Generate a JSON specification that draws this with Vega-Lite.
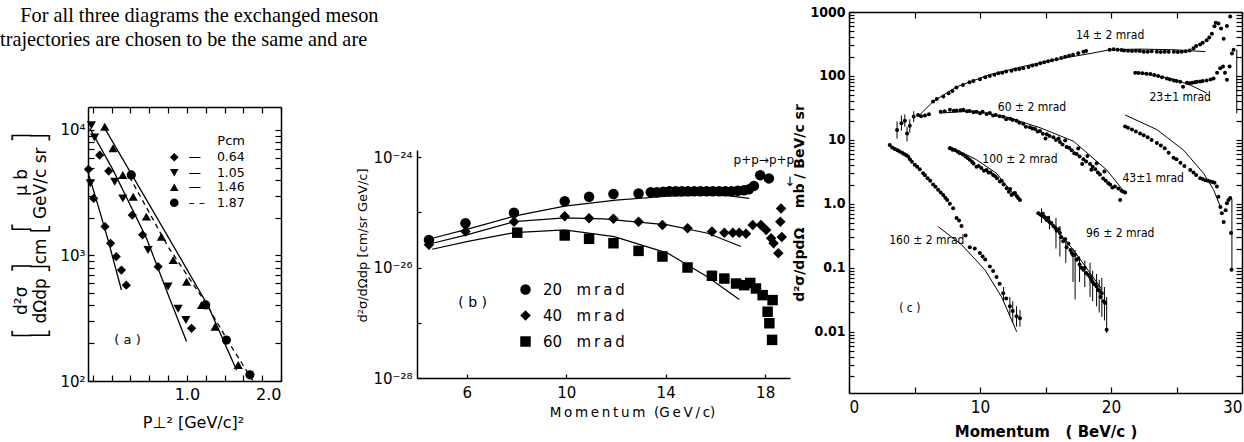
{
"$schema": "https://vega.github.io/schema/vega-lite/v6.json",
"background": "white",
"width": 1244, "height": 442, "autosize": "none", "padding": 0,
"config": {
  "view": {"stroke": null},
  "font": "DejaVu Sans",
  "axis": {"grid": false, "domainColor": "black", "tickColor": "black", "labelColor": "black", "titleColor": "black", "domainWidth": 1.5, "tickWidth": 1.2, "labelFont": "DejaVu Sans", "titleFont": "DejaVu Sans", "titleFontWeight": "normal"},
  "legend": {"labelFont": "DejaVu Sans", "titleFont": "DejaVu Sans", "labelColor": "black", "titleColor": "black", "padding": 0},
  "text": {"font": "DejaVu Sans", "color": "black"}
},
"datasets": {
  "para": [{"c":0,"line":1,"t":"\u200c\u00a0\u00a0\u00a0\u00a0For all three diagrams the exchanged meson"},{"c":0,"line":2,"t":"trajectories are chosen to be the same and are"}],
  "aPts": [
    {"s":"0.64","x":-0.045,"y":4860},{"s":"0.64","x":0.01,"y":2850},{"s":"0.64","x":0.13,"y":1700},{"s":"0.64","x":0.19,"y":1250},{"s":"0.64","x":0.25,"y":980},{"s":"0.64","x":0.305,"y":765},{"s":"0.64","x":0.357,"y":580},
    {"s":"0.64","x":0.074,"y":6300},{"s":"0.64","x":0.17,"y":4700},{"s":"0.64","x":0.42,"y":2100},{"s":"0.64","x":0.53,"y":1460},{"s":"0.64","x":0.695,"y":814},{"s":"0.64","x":1.05,"y":263},
    {"s":"1.05","x":-0.025,"y":3760},{"s":"1.05","x":-0.014,"y":10900},{"s":"1.05","x":0.02,"y":8700},{"s":"1.05","x":0.234,"y":3870},{"s":"1.05","x":0.32,"y":2850},{"s":"1.05","x":0.588,"y":1106},{"s":"1.05","x":0.8,"y":565},{"s":"1.05","x":0.907,"y":377},{"s":"1.05","x":0.99,"y":306},
    {"s":"1.46","x":0.128,"y":10600},{"s":"1.46","x":0.216,"y":7150},{"s":"1.46","x":0.32,"y":4380},{"s":"1.46","x":0.43,"y":2940},{"s":"1.46","x":0.57,"y":2040},{"s":"1.46","x":0.73,"y":1413},{"s":"1.46","x":0.855,"y":920},{"s":"1.46","x":0.997,"y":618},{"s":"1.46","x":1.156,"y":404},{"s":"1.46","x":1.3,"y":271},{"s":"1.46","x":1.546,"y":134},
    {"s":"1.87","x":0.41,"y":4380},{"s":"1.87","x":1.2,"y":404},{"s":"1.87","x":1.42,"y":212},{"s":"1.87","x":1.67,"y":112}
  ],
  "aLines": [
    {"s":"0.64","x":-0.045,"y":4500},{"s":"0.64","x":0.05,"y":2600},{"s":"0.64","x":0.163,"y":1330},{"s":"0.64","x":0.305,"y":531},
    {"s":"1.05","x":-0.03,"y":10300},{"s":"1.05","x":0.216,"y":4800},{"s":"1.05","x":0.57,"y":1380},{"s":"1.05","x":0.8,"y":490},{"s":"1.05","x":0.997,"y":206},
    {"s":"1.46","x":0.128,"y":10300},{"s":"1.46","x":0.82,"y":1330},{"s":"1.46","x":1.23,"y":391},{"s":"1.46","x":1.528,"y":122},
    {"s":"1.87","x":0.39,"y":4250},{"s":"1.87","x":0.8,"y":1175},{"s":"1.87","x":1.2,"y":420},{"s":"1.87","x":1.45,"y":200},{"s":"1.87","x":1.7,"y":101}
  ],
  "aText": [{"x":0.37,"y":212,"t":"( a )"}],
  "bPts": [
    {"s":"20","x":4.48,"y":3.16e-26},{"s":"20","x":5.95,"y":6.31e-26},{"s":"20","x":7.9,"y":9.8e-26},{"s":"20","x":9.94,"y":1.58e-25},{"s":"20","x":10.92,"y":1.91e-25},{"s":"20","x":11.9,"y":2.14e-25},{"s":"20","x":12.91,"y":2.19e-25},
    {"s":"20","x":13.4,"y":2.3e-25},{"s":"20","x":13.65,"y":2.3e-25},{"s":"20","x":13.9,"y":2.35e-25},{"s":"20","x":14.15,"y":2.4e-25},{"s":"20","x":14.4,"y":2.4e-25},{"s":"20","x":14.65,"y":2.4e-25},{"s":"20","x":14.9,"y":2.4e-25},{"s":"20","x":15.15,"y":2.4e-25},{"s":"20","x":15.4,"y":2.4e-25},{"s":"20","x":15.65,"y":2.4e-25},{"s":"20","x":15.9,"y":2.4e-25},{"s":"20","x":16.15,"y":2.4e-25},{"s":"20","x":16.4,"y":2.4e-25},{"s":"20","x":16.65,"y":2.4e-25},{"s":"20","x":16.9,"y":2.45e-25},{"s":"20","x":17.15,"y":2.5e-25},{"s":"20","x":17.35,"y":2.6e-25},{"s":"20","x":17.55,"y":3.0e-25},{"s":"20","x":17.8,"y":4.7e-25},{"s":"20","x":18.15,"y":4.1e-25},
    {"s":"40","x":4.48,"y":2.57e-26},{"s":"40","x":5.95,"y":4.47e-26},{"s":"40","x":7.9,"y":6.76e-26},{"s":"40","x":9.94,"y":8.5e-26},{"s":"40","x":10.92,"y":7.76e-26},{"s":"40","x":11.9,"y":7.6e-26},{"s":"40","x":12.91,"y":6.76e-26},{"s":"40","x":13.87,"y":5.89e-26},{"s":"40","x":14.88,"y":5.13e-26},{"s":"40","x":15.86,"y":4.47e-26},{"s":"40","x":16.36,"y":4.27e-26},{"s":"40","x":16.7,"y":4.27e-26},{"s":"40","x":16.96,"y":4.27e-26},{"s":"40","x":17.23,"y":4.07e-26},{"s":"40","x":17.5,"y":5.89e-26},{"s":"40","x":17.83,"y":5.89e-26},{"s":"40","x":18.04,"y":4.79e-26},{"s":"40","x":18.24,"y":3.39e-26},{"s":"40","x":18.34,"y":2.75e-26},{"s":"40","x":18.53,"y":1.82e-26},{"s":"40","x":18.64,"y":1.17e-25},{"s":"40","x":18.61,"y":6.76e-26},{"s":"40","x":18.67,"y":3.55e-26},
    {"s":"60","x":8.03,"y":4.27e-26},{"s":"60","x":9.94,"y":3.8e-26},{"s":"60","x":10.92,"y":3.31e-26},{"s":"60","x":11.9,"y":2.75e-26},{"s":"60","x":12.91,"y":2.0e-26},{"s":"60","x":13.87,"y":1.58e-26},{"s":"60","x":14.88,"y":1.0e-26},{"s":"60","x":15.86,"y":7.08e-27},{"s":"60","x":16.36,"y":6.31e-27},{"s":"60","x":16.83,"y":5.13e-27},{"s":"60","x":17.16,"y":4.79e-27},{"s":"60","x":17.4,"y":5.25e-27},{"s":"60","x":17.63,"y":4.17e-27},{"s":"60","x":17.9,"y":3.16e-27},{"s":"60","x":18.3,"y":2.57e-27},{"s":"60","x":18.1,"y":1.58e-27},{"s":"60","x":18.17,"y":9.8e-28},{"s":"60","x":18.28,"y":4.9e-28}
  ],
  "bLines": [
    {"s":"20","x":4.54,"y":3.31e-26},{"s":"20","x":6,"y":4.9e-26},{"s":"20","x":7.9,"y":8.5e-26},{"s":"20","x":9.94,"y":1.29e-25},{"s":"20","x":12,"y":1.66e-25},{"s":"20","x":14.08,"y":1.95e-25},{"s":"20","x":15.5,"y":2.04e-25},{"s":"20","x":16.5,"y":2.0e-25},{"s":"20","x":17.36,"y":1.78e-25},
    {"s":"40","x":4.54,"y":2.69e-26},{"s":"40","x":6,"y":3.9e-26},{"s":"40","x":7.9,"y":6.76e-26},{"s":"40","x":9.94,"y":7.94e-26},{"s":"40","x":11.5,"y":7.6e-26},{"s":"40","x":14.08,"y":5.89e-26},{"s":"40","x":15.69,"y":4.17e-26},{"s":"40","x":17.03,"y":2.4e-26},
    {"s":"60","x":4.61,"y":2.14e-26},{"s":"60","x":6,"y":2.95e-26},{"s":"60","x":7.9,"y":4.27e-26},{"s":"60","x":9.94,"y":4.79e-26},{"s":"60","x":11.93,"y":3.63e-26},{"s":"60","x":14.08,"y":1.82e-26},{"s":"60","x":15.69,"y":6.76e-27},{"s":"60","x":16.96,"y":2.63e-27}
  ],
  "bText": [{"x":6.24,"y":2.3e-27,"t":"( b )","f":14},{"x":17.95,"y":8.9e-25,"t":"p+p→p+p","f":12},{"x":19.0,"y":3.5e-25,"t":"↓","f":13}],
  "cPts": [
    {"s":"14","x":3.67,"y":14.3},{"s":"14","x":4.0,"y":18.2},{"s":"14","x":4.26,"y":20},{"s":"14","x":4.43,"y":12.6},{"s":"14","x":4.64,"y":16.6},{"s":"14","x":4.94,"y":23.2},{"s":"14","x":5.27,"y":24.5},{"s":"14","x":5.5,"y":23.4},{"s":"14","x":5.8,"y":24},{"s":"14","x":6.1,"y":25.1},{"s":"14","x":6.42,"y":40},{"s":"14","x":6.7,"y":43.7},{"s":"14","x":7.2,"y":47.9},{"s":"14","x":7.6,"y":53.7},{"s":"14","x":7.9,"y":58},{"s":"14","x":8.2,"y":66},{"s":"14","x":8.7,"y":72.4},{"s":"14","x":9.2,"y":79.4},{"s":"14","x":9.5,"y":83.2},{"s":"14","x":10.0,"y":89.1},{"s":"14","x":10.4,"y":95},{"s":"14","x":10.75,"y":100},{"s":"14","x":11.1,"y":104},{"s":"14","x":11.4,"y":110},{"s":"14","x":11.7,"y":112},{"s":"14","x":12.0,"y":117},{"s":"14","x":12.4,"y":121},{"s":"14","x":12.7,"y":126},{"s":"14","x":13.0,"y":128},{"s":"14","x":13.3,"y":132},{"s":"14","x":13.7,"y":138},{"s":"14","x":14.0,"y":145},{"s":"14","x":14.3,"y":150},{"s":"14","x":14.6,"y":158},{"s":"14","x":14.9,"y":164},{"s":"14","x":15.2,"y":170},{"s":"14","x":15.5,"y":176},{"s":"14","x":15.85,"y":182},{"s":"14","x":16.2,"y":190},{"s":"14","x":16.5,"y":200},{"s":"14","x":16.8,"y":206},{"s":"14","x":17.1,"y":214},{"s":"14","x":17.5,"y":226},{"s":"14","x":17.9,"y":240},{"s":"14","x":18.1,"y":245},{"s":"14","x":19.9,"y":257},{"s":"14","x":20.2,"y":262},{"s":"14","x":20.5,"y":257},{"s":"14","x":20.8,"y":255},{"s":"14","x":21.0,"y":251},{"s":"14","x":21.3,"y":248},{"s":"14","x":21.6,"y":245},{"s":"14","x":21.9,"y":247},{"s":"14","x":22.2,"y":245},{"s":"14","x":22.5,"y":240},{"s":"14","x":22.8,"y":240},{"s":"14","x":23.1,"y":244},{"s":"14","x":23.5,"y":240},{"s":"14","x":23.8,"y":236},{"s":"14","x":24.1,"y":240},{"s":"14","x":24.4,"y":238},{"s":"14","x":24.8,"y":240},{"s":"14","x":25.1,"y":236},{"s":"14","x":25.4,"y":240},{"s":"14","x":25.7,"y":243},{"s":"14","x":26.0,"y":251},{"s":"14","x":26.3,"y":270},{"s":"14","x":26.5,"y":295},{"s":"14","x":26.8,"y":310},{"s":"14","x":27.0,"y":331},{"s":"14","x":27.3,"y":363},{"s":"14","x":27.5,"y":400},{"s":"14","x":27.7,"y":457},{"s":"14","x":27.9,"y":600},{"s":"14","x":28.0,"y":676},{"s":"14","x":28.2,"y":661},{"s":"14","x":28.4,"y":550},{"s":"14","x":28.6,"y":380},{"s":"14","x":28.85,"y":603},{"s":"14","x":29.1,"y":851},
    {"s":"23","x":21.85,"y":112},{"s":"23","x":22.1,"y":111},{"s":"23","x":22.4,"y":110},{"s":"23","x":22.7,"y":108},{"s":"23","x":23.0,"y":107},{"s":"23","x":23.3,"y":103},{"s":"23","x":23.6,"y":100},{"s":"23","x":23.9,"y":95},{"s":"23","x":24.27,"y":91},{"s":"23","x":24.5,"y":88},{"s":"23","x":24.8,"y":85},{"s":"23","x":25.0,"y":83},{"s":"23","x":25.28,"y":81},{"s":"23","x":25.5,"y":68},{"s":"23","x":25.8,"y":78},{"s":"23","x":26.0,"y":77},{"s":"23","x":26.2,"y":78},{"s":"23","x":26.4,"y":80},{"s":"23","x":26.56,"y":81},{"s":"23","x":26.8,"y":82},{"s":"23","x":27.0,"y":83},{"s":"23","x":27.3,"y":85},{"s":"23","x":27.6,"y":88},{"s":"23","x":27.83,"y":91},{"s":"23","x":28.1,"y":112},{"s":"23","x":28.34,"y":132},{"s":"23","x":28.55,"y":140},{"s":"23","x":28.7,"y":112},{"s":"23","x":28.85,"y":87},{"s":"23","x":29.05,"y":141},{"s":"23","x":29.23,"y":224},{"s":"23","x":29.36,"y":257},
    {"s":"60","x":7.0,"y":27.5},{"s":"60","x":7.3,"y":28},{"s":"60","x":7.7,"y":29.5},{"s":"60","x":8.0,"y":28.5},{"s":"60","x":8.2,"y":28.8},{"s":"60","x":8.5,"y":29},{"s":"60","x":8.72,"y":29.5},{"s":"60","x":9.0,"y":28},{"s":"60","x":9.2,"y":28.2},{"s":"60","x":9.5,"y":27},{"s":"60","x":9.73,"y":27.5},{"s":"60","x":10.0,"y":26},{"s":"60","x":10.2,"y":27.5},{"s":"60","x":10.5,"y":25.5},{"s":"60","x":10.75,"y":26.3},{"s":"60","x":11.0,"y":24},{"s":"60","x":11.2,"y":24.5},{"s":"60","x":11.5,"y":23.5},{"s":"60","x":11.77,"y":22.9},{"s":"60","x":12.0,"y":21},{"s":"60","x":12.3,"y":21.4},{"s":"60","x":12.5,"y":20.5},{"s":"60","x":12.79,"y":20},{"s":"60","x":13.0,"y":18.5},{"s":"60","x":13.3,"y":17.8},{"s":"60","x":13.5,"y":16},{"s":"60","x":13.81,"y":15.8},{"s":"60","x":14.0,"y":15},{"s":"60","x":14.2,"y":14.8},{"s":"60","x":14.4,"y":13.5},{"s":"60","x":14.58,"y":13.8},{"s":"60","x":14.8,"y":12.5},{"s":"60","x":15.0,"y":10.5},{"s":"60","x":15.1,"y":12.3},{"s":"60","x":15.3,"y":11.5},{"s":"60","x":15.6,"y":11},{"s":"60","x":15.8,"y":10},{"s":"60","x":16.0,"y":10.5},{"s":"60","x":16.1,"y":9.3},{"s":"60","x":16.3,"y":8.5},{"s":"60","x":16.5,"y":9.8},{"s":"60","x":16.61,"y":7.76},{"s":"60","x":16.8,"y":7.5},{"s":"60","x":17.0,"y":6.9},{"s":"60","x":17.2,"y":6.2},{"s":"60","x":17.38,"y":6.0},{"s":"60","x":17.5,"y":7.3},{"s":"60","x":17.6,"y":5.5},{"s":"60","x":17.8,"y":4.2},{"s":"60","x":17.9,"y":5.0},{"s":"60","x":18.1,"y":4.6},{"s":"60","x":18.2,"y":5.6},{"s":"60","x":18.4,"y":4.2},{"s":"60","x":18.5,"y":3.4},{"s":"60","x":18.6,"y":3.8},{"s":"60","x":18.8,"y":3.47},{"s":"60","x":18.9,"y":4.3},{"s":"60","x":19.0,"y":3.1},{"s":"60","x":19.16,"y":2.88},{"s":"60","x":19.4,"y":2.5},{"s":"60","x":19.5,"y":3.2},{"s":"60","x":19.6,"y":2.29},{"s":"60","x":19.8,"y":2.1},{"s":"60","x":19.93,"y":2.0},{"s":"60","x":20.1,"y":1.8},{"s":"60","x":20.3,"y":1.86},{"s":"60","x":20.57,"y":1.74},{"s":"60","x":20.7,"y":1.15},{"s":"60","x":20.8,"y":1.6},{"s":"60","x":20.95,"y":1.55},{"s":"60","x":21.08,"y":1.51},
    {"s":"100","x":7.7,"y":7.4},{"s":"100","x":7.9,"y":7.0},{"s":"100","x":8.1,"y":6.9},{"s":"100","x":8.3,"y":6.5},{"s":"100","x":8.46,"y":6.2},{"s":"100","x":8.7,"y":5.9},{"s":"100","x":8.9,"y":5.5},{"s":"100","x":9.05,"y":5.2},{"s":"100","x":9.22,"y":4.9},{"s":"100","x":9.4,"y":4.5},{"s":"100","x":9.5,"y":4.27},{"s":"100","x":9.73,"y":3.8},{"s":"100","x":9.9,"y":3.9},{"s":"100","x":10.1,"y":3.63},{"s":"100","x":10.3,"y":3.3},{"s":"100","x":10.5,"y":3.39},{"s":"100","x":10.65,"y":3.1},{"s":"100","x":10.8,"y":3.09},{"s":"100","x":11.0,"y":2.82},{"s":"100","x":11.15,"y":2.7},{"s":"100","x":11.3,"y":2.51},{"s":"100","x":11.52,"y":2.24},{"s":"100","x":11.65,"y":2.3},{"s":"100","x":11.8,"y":2.0},{"s":"100","x":12.03,"y":1.76},{"s":"100","x":12.2,"y":1.55},{"s":"100","x":12.3,"y":1.7},{"s":"100","x":12.41,"y":1.38},{"s":"100","x":12.55,"y":1.45},{"s":"100","x":12.67,"y":1.48},{"s":"100","x":12.8,"y":1.32},{"s":"100","x":12.92,"y":1.23},{"s":"100","x":13.05,"y":1.15},
    {"s":"43","x":21.08,"y":16.2},{"s":"43","x":21.3,"y":15.5},{"s":"43","x":21.6,"y":14.5},{"s":"43","x":21.9,"y":13.5},{"s":"43","x":22.22,"y":12.6},{"s":"43","x":22.5,"y":11.8},{"s":"43","x":22.8,"y":11},{"s":"43","x":23.1,"y":10},{"s":"43","x":23.5,"y":8.9},{"s":"43","x":23.8,"y":8.2},{"s":"43","x":24.1,"y":7.4},{"s":"43","x":24.4,"y":6.3},{"s":"43","x":24.77,"y":5.25},{"s":"43","x":25.0,"y":5.0},{"s":"43","x":25.3,"y":4.37},{"s":"43","x":25.6,"y":3.9},{"s":"43","x":26.05,"y":3.39},{"s":"43","x":26.3,"y":3.1},{"s":"43","x":26.5,"y":2.82},{"s":"43","x":26.81,"y":2.51},{"s":"43","x":27.0,"y":2.45},{"s":"43","x":27.2,"y":2.34},{"s":"43","x":27.4,"y":2.3},{"s":"43","x":27.57,"y":2.24},{"s":"43","x":27.75,"y":2.2},{"s":"43","x":27.9,"y":2.14},{"s":"43","x":28.08,"y":1.86},{"s":"43","x":28.2,"y":1.29},{"s":"43","x":28.35,"y":0.89},{"s":"43","x":28.46,"y":0.71},{"s":"43","x":28.6,"y":0.52},{"s":"43","x":28.75,"y":0.79},{"s":"43","x":28.85,"y":1.02},{"s":"43","x":28.97,"y":1.15},{"s":"43","x":29.1,"y":1.23},{"s":"43","x":29.16,"y":0.35},{"s":"43","x":29.2,"y":0.093},
    {"s":"96","x":14.45,"y":0.71},{"s":"96","x":14.6,"y":0.68},{"s":"96","x":14.7,"y":0.66},{"s":"96","x":14.8,"y":0.7},{"s":"96","x":14.9,"y":0.63},{"s":"96","x":15.0,"y":0.6},{"s":"96","x":15.09,"y":0.56},{"s":"96","x":15.2,"y":0.6},{"s":"96","x":15.3,"y":0.52},{"s":"96","x":15.45,"y":0.5},{"s":"96","x":15.6,"y":0.45},{"s":"96","x":15.75,"y":0.42},{"s":"96","x":15.85,"y":0.38},{"s":"96","x":16.0,"y":0.4},{"s":"96","x":16.1,"y":0.35},{"s":"96","x":16.2,"y":0.3},{"s":"96","x":16.35,"y":0.26},{"s":"96","x":16.5,"y":0.28},{"s":"96","x":16.61,"y":0.21},{"s":"96","x":16.75,"y":0.24},{"s":"96","x":16.9,"y":0.19},{"s":"96","x":17.0,"y":0.17},{"s":"96","x":17.1,"y":0.158},{"s":"96","x":17.25,"y":0.16},{"s":"96","x":17.38,"y":0.133},{"s":"96","x":17.5,"y":0.14},{"s":"96","x":17.6,"y":0.112},{"s":"96","x":17.75,"y":0.1},{"s":"96","x":17.89,"y":0.093},{"s":"96","x":18.0,"y":0.1},{"s":"96","x":18.1,"y":0.083},{"s":"96","x":18.25,"y":0.078},{"s":"96","x":18.4,"y":0.072},{"s":"96","x":18.5,"y":0.065},{"s":"96","x":18.6,"y":0.06},{"s":"96","x":18.75,"y":0.055},{"s":"96","x":18.9,"y":0.051},{"s":"96","x":19.0,"y":0.045},{"s":"96","x":19.1,"y":0.044},{"s":"96","x":19.2,"y":0.035},{"s":"96","x":19.3,"y":0.04},{"s":"96","x":19.45,"y":0.03},{"s":"96","x":19.55,"y":0.028},{"s":"96","x":19.67,"y":0.0107},
    {"s":"160","x":3.11,"y":8.3},{"s":"160","x":3.3,"y":7.6},{"s":"160","x":3.5,"y":7.2},{"s":"160","x":3.7,"y":6.9},{"s":"160","x":3.87,"y":6.6},{"s":"160","x":4.05,"y":6.3},{"s":"160","x":4.2,"y":6.0},{"s":"160","x":4.35,"y":5.8},{"s":"160","x":4.51,"y":5.5},{"s":"160","x":4.65,"y":5.0},{"s":"160","x":4.8,"y":4.57},{"s":"160","x":5.02,"y":4.07},{"s":"160","x":5.2,"y":3.8},{"s":"160","x":5.4,"y":3.47},{"s":"160","x":5.66,"y":3.0},{"s":"160","x":5.8,"y":2.8},{"s":"160","x":6.0,"y":2.51},{"s":"160","x":6.2,"y":2.3},{"s":"160","x":6.42,"y":2.0},{"s":"160","x":6.6,"y":1.85},{"s":"160","x":6.8,"y":1.66},{"s":"160","x":7.0,"y":1.5},{"s":"160","x":7.19,"y":1.38},{"s":"160","x":7.35,"y":1.25},{"s":"160","x":7.5,"y":1.15},{"s":"160","x":7.7,"y":1.0},{"s":"160","x":7.95,"y":0.85},{"s":"160","x":8.21,"y":0.6},{"s":"160","x":8.4,"y":0.55},{"s":"160","x":8.59,"y":0.45},{"s":"160","x":8.9,"y":0.32},{"s":"160","x":9.22,"y":0.21},{"s":"160","x":9.6,"y":0.2},{"s":"160","x":9.99,"y":0.17},{"s":"160","x":10.2,"y":0.15},{"s":"160","x":10.4,"y":0.135},{"s":"160","x":10.75,"y":0.105},{"s":"160","x":11.0,"y":0.089},{"s":"160","x":11.26,"y":0.072},{"s":"160","x":11.5,"y":0.056},{"s":"160","x":11.77,"y":0.04},{"s":"160","x":12.0,"y":0.033},{"s":"160","x":12.28,"y":0.025},{"s":"160","x":12.5,"y":0.021},{"s":"160","x":12.79,"y":0.0174},{"s":"160","x":13.05,"y":0.0162}
  ],
  "cErr": [
    {"x":3.67,"lo":10.5,"hi":19.5},{"x":4.0,"lo":14,"hi":24},{"x":4.26,"lo":16,"hi":25},{"x":4.43,"lo":9.5,"hi":16},{"x":4.64,"lo":13,"hi":21},{"x":4.94,"lo":19,"hi":28},
    {"x":14.7,"lo":0.5,"hi":0.85},{"x":15.3,"lo":0.4,"hi":0.65},{"x":15.8,"lo":0.2,"hi":0.6},{"x":16.1,"lo":0.15,"hi":0.45},{"x":16.55,"lo":0.12,"hi":0.3},{"x":17.1,"lo":0.06,"hi":0.2},{"x":17.26,"lo":0.032,"hi":0.19},{"x":17.6,"lo":0.06,"hi":0.15},{"x":18.0,"lo":0.05,"hi":0.13},{"x":18.4,"lo":0.035,"hi":0.12},{"x":18.6,"lo":0.03,"hi":0.09},{"x":18.9,"lo":0.025,"hi":0.08},{"x":19.1,"lo":0.02,"hi":0.065},{"x":19.3,"lo":0.017,"hi":0.07},{"x":19.5,"lo":0.015,"hi":0.05},{"x":19.67,"lo":0.0095,"hi":0.035},
    {"x":11.8,"lo":0.03,"hi":0.05},{"x":12.28,"lo":0.018,"hi":0.035},{"x":12.5,"lo":0.014,"hi":0.03},{"x":12.79,"lo":0.012,"hi":0.025},{"x":13.05,"lo":0.012,"hi":0.022},
    {"x":29.6,"lo":26,"hi":257},{"x":29.23,"lo":0.093,"hi":1.2}
  ],
  "cLines": [
    {"s":"14","x":5.27,"y":23.2},{"s":"14","x":6.42,"y":39.8},{"s":"14","x":8.21,"y":67.6},{"s":"14","x":10.75,"y":105},{"s":"14","x":13.3,"y":141},{"s":"14","x":15.85,"y":182},{"s":"14","x":18.4,"y":224},{"s":"14","x":19.93,"y":257},{"s":"14","x":22.2,"y":263},{"s":"14","x":24.77,"y":257},{"s":"14","x":27.2,"y":240},
    {"s":"23","x":21.85,"y":115},{"s":"23","x":23.3,"y":102},{"s":"23","x":24.77,"y":89},{"s":"23","x":26.05,"y":72},{"s":"23","x":27.32,"y":54},
    {"s":"60","x":6.93,"y":26.3},{"s":"60","x":9.5,"y":28.2},{"s":"60","x":12.0,"y":22.9},{"s":"60","x":14.58,"y":15.5},{"s":"60","x":17.13,"y":9.55},{"s":"60","x":19.67,"y":3.39},{"s":"60","x":21.08,"y":1.48},
    {"s":"100","x":7.7,"y":7.9},{"s":"100","x":9.73,"y":4.9},{"s":"100","x":11.26,"y":3.0},{"s":"100","x":12.28,"y":1.66},{"s":"100","x":13.05,"y":1.09},
    {"s":"43","x":21.08,"y":24.5},{"s":"43","x":23.5,"y":14.5},{"s":"43","x":25.54,"y":6.9},{"s":"43","x":27.07,"y":3.0},{"s":"43","x":27.83,"y":1.66},{"s":"43","x":28.34,"y":0.91},
    {"s":"96","x":14.45,"y":0.71},{"s":"96","x":15.85,"y":0.39},{"s":"96","x":17.13,"y":0.19},{"s":"96","x":18.4,"y":0.083},{"s":"96","x":19.3,"y":0.046},
    {"s":"160","x":6.8,"y":0.44},{"s":"160","x":8.59,"y":0.23},{"s":"160","x":10.37,"y":0.093},{"s":"160","x":11.65,"y":0.035},{"s":"160","x":12.8,"y":0.01}
  ],
  "cText": [
    {"x":19.93,"y":437,"t":"14 ± 2 mrad"},{"x":25.28,"y":46.8,"t":"23±1 mrad"},{"x":13.97,"y":32.8,"t":"60 ± 2 mrad"},{"x":13.05,"y":5.05,"t":"100 ± 2 mrad"},{"x":23.22,"y":2.55,"t":"43±1 mrad"},{"x":20.7,"y":0.352,"t":"96 ± 2 mrad"},{"x":5.94,"y":0.274,"t":"160 ± 2 mrad"},{"x":4.64,"y":0.0237,"t":"( c )"}
  ]
},
"layer": [
  {
    "data": {"name": "para"},
    "mark": {"type": "text", "align": "left", "baseline": "alphabetic", "font": "Liberation Serif", "fontSize": 20.3},
    "encoding": {
      "x": {"field": "c", "type": "quantitative", "scale": {"domain": [0, 1], "range": [0, 370], "nice": false, "zero": false}, "axis": null},
      "y": {"field": "line", "type": "quantitative", "scale": {"domain": [1, 2], "range": [22, 46], "nice": false, "zero": false}, "axis": null},
      "text": {"field": "t"}
    }
  },
  {
    "data": {"name": "aLines"},
    "mark": {"type": "line", "color": "black", "strokeWidth": 1.3},
    "encoding": {
      "x": {"field": "x", "type": "quantitative", "scale": {"domain": [-0.05, 2.0], "range": [88, 281], "nice": false, "zero": false},
            "axis": {"orient": "bottom", "offset": -61, "values": [0,0.2,0.4,0.6,0.8,1,1.2,1.4,1.6,1.8,2], "labelExpr": "datum.value == 1 ? '1.0' : datum.value == 2 ? '2.0' : ''", "tickSize": -6, "labelPadding": 11, "labelFontSize": 16, "title": "P⊥² [GeV/c]²", "titleFontSize": 16, "titlePadding": 12, "titleX": 193}},
      "y": {"field": "y", "type": "quantitative", "scale": {"type": "log", "domain": [100, 15240], "range": [381, 107], "nice": false},
            "axis": {"orient": "left", "offset": -88, "values": [100,200,300,400,500,600,700,800,900,1000,2000,3000,4000,5000,6000,7000,8000,9000,10000], "labelExpr": "datum.value == 10000 ? '10⁴' : datum.value == 1000 ? '10³' : datum.value == 100 ? '10²' : ''", "tickSize": -6, "labelPadding": 9, "labelFontSize": 15,
                     "title": ["⎡\u00a0\u00a0\u2009d²σ\u00a0\u00a0\u2009⎤\u00a0\u00a0\u00a0\u00a0\u00a0\u00a0⎡\u00a0\u00a0\u00a0\u00a0\u00a0μ b\u00a0\u00a0\u00a0\u00a0\u00a0⎤", "⎣\u00a0dΩdp\u00a0⎦cm\u00a0⎣\u00a0GeV/c sr\u00a0⎦"], "titleFontSize": 17, "titleLineHeight": 19.8, "titlePadding": 10, "titleY": 235}},
      "detail": {"field": "s", "type": "nominal"},
      "strokeDash": {"field": "s", "type": "nominal", "scale": {"domain": ["0.64","1.05","1.46","1.87"], "range": [[1,0],[1,0],[1,0],[5,4]]}, "legend": null}
    }
  },
  {
    "data": {"name": "aPts"},
    "mark": {"type": "point", "filled": true, "color": "black", "opacity": 1, "size": 85},
    "encoding": {
      "x": {"field": "x", "type": "quantitative", "scale": {"domain": [-0.05, 2.0], "range": [88, 281], "nice": false, "zero": false},
            "axis": {"orient": "top", "offset": -107, "values": [0,0.2,0.4,0.6,0.8,1,1.2,1.4,1.6,1.8,2], "labels": false, "tickSize": -6, "title": null}},
      "y": {"field": "y", "type": "quantitative", "scale": {"type": "log", "domain": [100, 15240], "range": [381, 107], "nice": false},
            "axis": {"orient": "right", "offset": -963, "values": [100,200,300,400,500,600,700,800,900,1000,2000,3000,4000,5000,6000,7000,8000,9000,10000], "labels": false, "tickSize": -6, "title": null}},
      "shape": {"field": "s", "type": "nominal", "scale": {"domain": ["0.64","1.05","1.46","1.87"], "range": ["diamond","triangle-down","triangle-up","circle"]},
                "legend": {"title": "Pcm", "orient": "none", "legendX": 168, "legendY": 135, "titleAnchor": "end", "titleFontSize": 13, "titleFontWeight": "normal", "titlePadding": 3, "labelFontSize": 12.5, "symbolSize": 75, "symbolFillColor": "black", "symbolStrokeColor": "black", "labelOffset": 8, "rowPadding": 0.5,
                           "labelExpr": "datum.label == '1.87' ? '–\u00a0–\u00a0\u00a0\u00a0' + datum.label : '—\u00a0\u00a0\u00a0\u00a0' + datum.label"}}
    }
  },
  {
    "data": {"name": "aText"},
    "mark": {"type": "text", "fontSize": 13},
    "encoding": {
      "x": {"field": "x", "type": "quantitative", "scale": {"domain": [-0.05, 2.0], "range": [88, 281], "nice": false, "zero": false}, "axis": null},
      "y": {"field": "y", "type": "quantitative", "scale": {"type": "log", "domain": [100, 15240], "range": [381, 107], "nice": false}, "axis": null},
      "text": {"field": "t"}
    }
  },
  {
    "data": {"name": "bLines"},
    "mark": {"type": "line", "color": "black", "strokeWidth": 1.2},
    "encoding": {
      "x": {"field": "x", "type": "quantitative", "scale": {"domain": [4, 19], "range": [417, 790], "nice": false, "zero": false},
            "axis": {"orient": "bottom", "offset": -64, "values": [6,10,14,18], "tickSize": -4, "labelPadding": 11, "labelFontSize": 15, "title": "M\u2009o\u2009m\u2009e\u2009n\u2009t\u2009u\u2009m\u00a0\u00a0(G\u2009e\u2009V\u2009/\u2009c)", "titleFontSize": 13.5, "titleX": 632, "titlePadding": 5}},
      "y": {"field": "y", "type": "quantitative", "scale": {"type": "log", "domain": [1e-28, 1.34e-24], "range": [378, 150], "nice": false},
            "axis": {"orient": "left", "offset": -417, "values": [1e-28,1e-27,1e-26,1e-25,1e-24], "labelExpr": "datum.value > 5e-25 ? '10⁻²⁴' : (datum.value > 5e-27 && datum.value < 5e-26) ? '10⁻²⁶' : datum.value < 5e-28 ? '10⁻²⁸' : ''", "tickSize": -4, "labelPadding": 9, "labelFontSize": 15, "title": "d²σ/dΩdp  [cm/sr GeV/c]", "titleFontSize": 13, "titlePadding": 3, "titleY": 245}},
      "detail": {"field": "s", "type": "nominal"}
    }
  },
  {
    "data": {"name": "bPts"},
    "mark": {"type": "point", "filled": true, "color": "black", "opacity": 1, "size": 110},
    "encoding": {
      "x": {"field": "x", "type": "quantitative", "scale": {"domain": [4, 19], "range": [417, 790], "nice": false, "zero": false}, "axis": null},
      "y": {"field": "y", "type": "quantitative", "scale": {"type": "log", "domain": [1e-28, 1.34e-24], "range": [378, 150], "nice": false}, "axis": null},
      "shape": {"field": "s", "type": "nominal", "scale": {"domain": ["20","40","60"], "range": ["circle","diamond","square"]},
                "legend": {"title": null, "orient": "none", "legendX": 518, "legendY": 282, "labelFontSize": 15, "symbolSize": 110, "symbolFillColor": "black", "symbolStrokeColor": "black", "labelOffset": 10, "rowPadding": 9,
                           "labelExpr": "datum.label + '\u00a0\u00a0\u00a0m\u2009r\u2009a\u2009d'"}}
    }
  },
  {
    "data": {"name": "bText"},
    "mark": {"type": "text"},
    "encoding": {
      "x": {"field": "x", "type": "quantitative", "scale": {"domain": [4, 19], "range": [417, 790], "nice": false, "zero": false}, "axis": null},
      "y": {"field": "y", "type": "quantitative", "scale": {"type": "log", "domain": [1e-28, 1.34e-24], "range": [378, 150], "nice": false}, "axis": null},
      "text": {"field": "t"},
      "size": {"field": "f", "type": "quantitative", "scale": null}
    }
  },
  {
    "data": {"name": "cErr"},
    "mark": {"type": "rule", "color": "black", "strokeWidth": 1},
    "encoding": {
      "x": {"field": "x", "type": "quantitative", "scale": {"domain": [0, 30], "range": [849, 1242], "nice": false, "zero": false},
            "axis": {"orient": "bottom", "offset": -49, "values": [0,5,10,15,20,25,30], "labelExpr": "datum.value % 10 == 0 ? datum.label : ''", "tickSize": -6, "labelPadding": 12, "labelFontSize": 17, "labelFont": "DejaVu Sans Condensed, DejaVu Sans", "labelFlush": true, "title": "Momentum\u00a0\u00a0\u00a0( BeV/c )", "titleFontSize": 15, "titleFontWeight": "bold", "titlePadding": 9}},
      "y": {"field": "lo", "type": "quantitative", "scale": {"type": "log", "domain": [0.0011, 1000], "range": [393, 12], "nice": false},
            "axis": {"orient": "left", "offset": -849, "values": [0.002,0.003,0.004,0.005,0.006,0.007,0.008,0.009,0.01,0.02,0.03,0.04,0.05,0.06,0.07,0.08,0.09,0.1,0.2,0.3,0.4,0.5,0.6,0.7,0.8,0.9,1,2,3,4,5,6,7,8,9,10,20,30,40,50,60,70,80,90,100,200,300,400,500,600,700,800,900,1000],
                     "labelExpr": "datum.value == 1000 ? '1000' : datum.value == 100 ? '100' : datum.value == 10 ? '10' : datum.value == 1 ? '1.0' : datum.value == 0.1 ? '0.1' : datum.value == 0.01 ? '0.01' : ''", "tickSize": -5, "labelPadding": 9, "labelFontSize": 14, "labelFontWeight": "bold", "labelFont": "DejaVu Sans Condensed, DejaVu Sans", "title": "d²σ/dpdΩ\u00a0\u00a0\u00a0\u00a0mb / BeV/c sr", "titleFontSize": 14, "titleFontWeight": "bold", "titlePadding": 3}},
      "y2": {"field": "hi"}
    }
  },
  {
    "data": {"name": "cLines"},
    "mark": {"type": "line", "color": "black", "strokeWidth": 1},
    "encoding": {
      "x": {"field": "x", "type": "quantitative", "scale": {"domain": [0, 30], "range": [849, 1242], "nice": false, "zero": false},
            "axis": {"orient": "top", "offset": -12, "values": [0,5,10,15,20,25,30], "labels": false, "tickSize": -6, "title": null}},
      "y": {"field": "y", "type": "quantitative", "scale": {"type": "log", "domain": [0.0011, 1000], "range": [393, 12], "nice": false},
            "axis": {"orient": "right", "offset": -2, "values": [0.002,0.003,0.004,0.005,0.006,0.007,0.008,0.009,0.01,0.02,0.03,0.04,0.05,0.06,0.07,0.08,0.09,0.1,0.2,0.3,0.4,0.5,0.6,0.7,0.8,0.9,1,2,3,4,5,6,7,8,9,10,20,30,40,50,60,70,80,90,100,200,300,400,500,600,700,800,900,1000], "labels": false, "tickSize": -6, "title": null}},
      "detail": {"field": "s", "type": "nominal"}
    }
  },
  {
    "data": {"name": "cPts"},
    "mark": {"type": "circle", "color": "black", "opacity": 1, "size": 16},
    "encoding": {
      "x": {"field": "x", "type": "quantitative", "scale": {"domain": [0, 30], "range": [849, 1242], "nice": false, "zero": false}, "axis": null},
      "y": {"field": "y", "type": "quantitative", "scale": {"type": "log", "domain": [0.0011, 1000], "range": [393, 12], "nice": false}, "axis": null}
    }
  },
  {
    "data": {"name": "cText"},
    "mark": {"type": "text", "fontSize": 12, "font": "DejaVu Sans Condensed, DejaVu Sans"},
    "encoding": {
      "x": {"field": "x", "type": "quantitative", "scale": {"domain": [0, 30], "range": [849, 1242], "nice": false, "zero": false}, "axis": null},
      "y": {"field": "y", "type": "quantitative", "scale": {"type": "log", "domain": [0.0011, 1000], "range": [393, 12], "nice": false}, "axis": null},
      "text": {"field": "t"}
    }
  }
],
"resolve": {"scale": {"x": "independent", "y": "independent", "shape": "independent", "strokeDash": "independent", "size": "independent"}, "axis": {"x": "independent", "y": "independent"}, "legend": {"shape": "independent"}}
}
